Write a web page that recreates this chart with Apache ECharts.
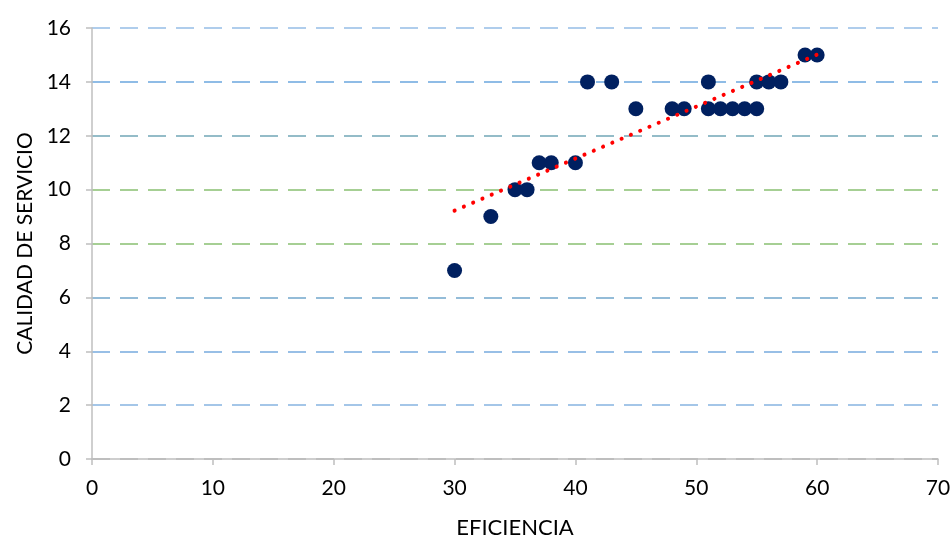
<!DOCTYPE html>
<html><head><meta charset="utf-8">
<script src="https://cdn.jsdelivr.net/npm/echarts@6/dist/echarts.min.js"></script>
<style>html,body{margin:0;padding:0;background:#fff}#c{width:951px;height:540px}</style>
</head><body><div id="c"></div>
<script>
const eficiencia = [30,33,35,36,37,38,40,41,43,45,48,49,51,51,52,53,54,55,55,56,57,59,60];
const calidad    = [7, 9, 10,10,11,11,11,14,14,13,13,13,14,13,13,13,13,13,14,14,14,15,15];
const xTitle = 'EFICIENCIA';
const yTitle = 'CALIDAD DE SERVICIO';

const n = eficiencia.length;
const mx = eficiencia.reduce((a,b)=>a+b,0)/n;
const my = calidad.reduce((a,b)=>a+b,0)/n;
let sxy=0,sxx=0;
for(let i=0;i<n;i++){sxy+=(eficiencia[i]-mx)*(calidad[i]-my);sxx+=(eficiencia[i]-mx)**2;}
const slope=sxy/sxx, icpt=my-slope*mx;
const xmin=Math.min(...eficiencia), xmax=Math.max(...eficiencia);
const trend=[[xmin,icpt+slope*xmin],[xmax,icpt+slope*xmax]];

const font='Lato';
const chart=echarts.init(document.getElementById('c'));
chart.setOption({
  animation:false,
  grid:{left:92,right:13,top:28,bottom:81,containLabel:false,outerBoundsMode:'none'},
  xAxis:{type:'value',min:0,max:70,interval:10,
    name:xTitle,nameLocation:'middle',nameGap:58,
    nameTextStyle:{fontFamily:font,fontSize:22,color:'#000'},
    axisLine:{show:true,lineStyle:{color:'#bfbfbf',width:1.5}},
    axisTick:{show:true,length:6,lineStyle:{color:'#bfbfbf',width:1.5}},
    axisLabel:{fontFamily:font,fontSize:21,color:'#000',margin:19},
    splitLine:{show:false}},
  yAxis:{type:'value',min:0,max:16,interval:2,
    name:yTitle,nameLocation:'middle',nameGap:56,nameRotate:90,
    nameTextStyle:{fontFamily:font,fontSize:21,color:'#000'},
    axisLine:{show:true,lineStyle:{color:'#bfbfbf',width:1.5}},
    axisTick:{show:true,length:6,lineStyle:{color:'#bfbfbf',width:1.5}},
    axisLabel:{fontFamily:font,fontSize:21,color:'#000',margin:21},
    splitLine:{show:true,lineStyle:{type:[18,10],width:2,
      color:['#bfbfbf','#a4c6e8','#98bfe6','#94bcd8','#a6cf94','#a6cf94','#94bcc8','#8fbce6','#afcdec']}}},
  series:[
    {type:'scatter',data:eficiencia.map((x,i)=>[x,calidad[i]]),symbolSize:15,
      itemStyle:{color:'#002060',opacity:1},z:3},
    {type:'line',data:trend,symbol:'none',z:4,
      lineStyle:{color:'#ff0000',width:4,type:[0.1,10],cap:'round'}}
  ]
});
</script></body></html>
